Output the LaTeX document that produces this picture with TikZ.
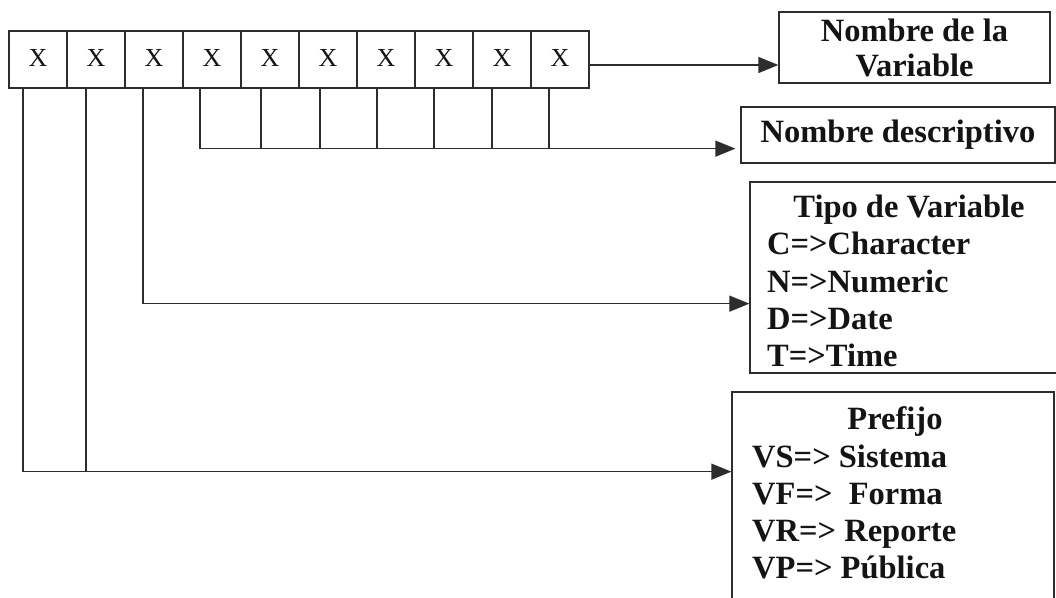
\documentclass[tikz,border=0pt]{standalone}
\usepackage{fontspec}
\setmainfont{Liberation Serif}
\usetikzlibrary{arrows.meta,calc}
\definecolor{ln}{RGB}{45,45,45}
\definecolor{tx}{RGB}{20,20,20}
\begin{document}
\begin{tikzpicture}[x=1pt,y=-1pt,
  cell/.style={draw=ln, line width=1.3pt, minimum width=58pt, minimum height=57pt, inner sep=0pt,
    text=tx, font=\fontsize{26}{26}\selectfont},
  lbox/.style={draw=ln, line width=1.3pt, inner sep=0pt, text=tx, align=center,
    font=\fontsize{32.5}{35}\selectfont\bfseries},
  ltext/.style={inner sep=0pt, text=tx, font=\fontsize{32.5}{35}\selectfont\bfseries},
  conn/.style={draw=ln, line width=1.3pt},
  arr/.style={conn, -{Triangle[length=20pt,width=16pt]}}]
\useasboundingbox (0,0) rectangle (1056,597);
\clip (0,0) rectangle (1056,597);
\fill[white] (0,0) rectangle (1056,597);

% cells
\foreach \i in {1,...,10}
  \node[cell] (c\i) at ({38+58*(\i-1)},59.5) {\raisebox{3pt}{X}};

% right boxes
\node[lbox, minimum width=271pt, minimum height=71pt] (nv) at (914.5,47.5) {Nombre de la\\Variable};
\node[lbox, minimum width=314pt, minimum height=56pt] (desc) at (898,135) {Nombre descriptivo};
\node[lbox, minimum width=320pt, minimum height=191pt] (tipo) at (910,277.5) {};
\node[lbox, minimum width=322pt, minimum height=218pt] (pref) at (893,501) {};

% texts in Tipo box
\node[ltext, anchor=base] (tt) at (909,217) {Tipo de Variable};
\node[ltext, anchor=base west] (t1) at (767,254) {C=>Character};
\node[ltext, anchor=base west] (t2) at (767,292) {N=>Numeric};
\node[ltext, anchor=base west] (t3) at (767,329) {D=>Date};
\node[ltext, anchor=base west] (t4) at (767,366) {T=>Time};

% texts in Prefijo box
\node[ltext, anchor=base] (pt) at (895,429) {Prefijo};
\node[ltext, anchor=base west] (p1) at (752,467) {VS=> Sistema};
\node[ltext, anchor=base west] (p2) at (752,504) {VF=>\ \ Forma};
\node[ltext, anchor=base west] (p3) at (752,541) {VR=> Reporte};
\node[ltext, anchor=base west] (p4) at (752,578) {VP=> Pública};

% arrow to Nombre de la Variable
\coordinate (a10) at ([yshift=-5.5pt]c10.east);
\draw[arr] (a10) -- (a10 -| nv.west);

% arrow to Nombre descriptivo
\coordinate (j4) at ([xshift=-12pt,yshift=-60pt]c4.south);
\draw[arr, shorten >=5pt] ([xshift=-12pt]c4.south) -- (j4) -- (j4 -| desc.west);
\foreach \i/\dx in {5/-9,6/-8,7/-9,8/-10,9/-10,10/-11}
  \draw[conn] ([xshift=\dx pt]c\i.south) -- ([xshift=\dx pt,yshift=-60pt]c\i.south);

% arrow to Tipo de Variable
\coordinate (j3) at ([xshift=-11pt,yshift=-215pt]c3.south);
\draw[arr] ([xshift=-11pt]c3.south) -- (j3) -- (j3 -| tipo.west);

% arrow to Prefijo
\coordinate (j1) at ([xshift=-15pt,yshift=-383pt]c1.south);
\coordinate (j2) at ([xshift=-10pt,yshift=-383pt]c2.south);
\draw[arr] ([xshift=-15pt]c1.south) -- (j1) -- (j1 -| pref.west);
\draw[conn] ([xshift=-10pt]c2.south) -- (j2);
\end{tikzpicture}
\end{document}
